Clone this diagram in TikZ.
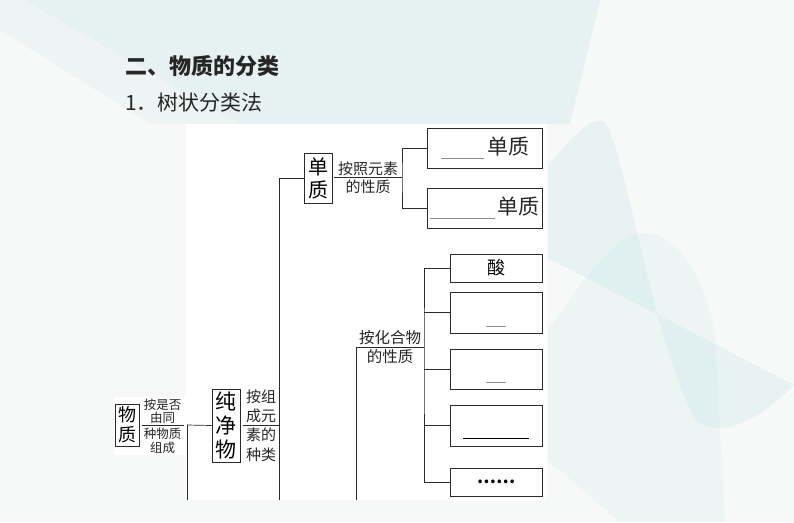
\documentclass[tikz,border=0pt]{standalone}
\usepackage{fontspec}
\setmainfont{Noto Sans CJK SC}
\definecolor{bgc}{HTML}{F7F8F8}
\definecolor{tealc}{HTML}{BFE2E2}
\definecolor{linec}{HTML}{2A2A2A}
\begin{document}
\begin{tikzpicture}[x=1pt,y=-1pt,
  box/.style={draw=linec, line width=0.9pt, inner sep=0pt, fill=white},
  conn/.style={draw=linec, line width=0.7pt},
  lab/.style={inner sep=0pt, anchor=center, text=black!85},
  blank/.style={draw=black!45, line width=0.8pt}]
\useasboundingbox (0,0) rectangle (794,522);
% background
\fill[bgc] (0,0) rectangle (794,522);
\fill[tealc, opacity=0.3] (25,0) -- (600,0) -- (570,124) -- (240,124) -- cycle;
\fill[tealc, opacity=0.15] (0,0) -- (25,0) -- (240,124) -- (150,124) -- (0,30) -- cycle;
\fill[tealc, opacity=0.25] (548,165) .. controls (570,140) and (590,115) .. (605,122)
  .. controls (625,150) and (650,330) .. (695,420) .. controls (720,440) and (760,420) .. (794,385)
  -- (548,258) -- cycle;
\fill[tealc, opacity=0.18] (548,330) .. controls (590,270) and (620,230) .. (648,233)
  .. controls (690,240) and (710,300) .. (715,340) -- (725,522) -- (620,522) -- (548,460) -- cycle;
% titles
\node[lab, anchor=west, font=\fontsize{22}{22}\selectfont\bfseries] (t1) at (125,66) {二、物质的分类};
\node[lab, anchor=west, font=\fontsize{21}{21}\selectfont] (t2) at (125,103) {1．树状分类法};
% white panels
\fill[white] (186,124) rectangle (547,500);
\fill[white] (114,397) rectangle (186,455);
% main boxes
\node[box, minimum width=24pt, minimum height=42pt, align=center, font=\fontsize{18}{20}\selectfont] (wz) at (127,425) {物\\质};
\node[box, minimum width=28pt, minimum height=73pt, align=center, font=\fontsize{21}{24}\selectfont] (cjw) at (226,425.5) {纯\\净\\物};
\node[box, minimum width=28pt, minimum height=50pt, align=center, font=\fontsize{20}{23}\selectfont] (dz) at (318,178) {单\\质};
\node[box, minimum width=115pt, minimum height=40pt] (b1) at (484.5,148) {};
\node[box, minimum width=115pt, minimum height=40pt] (b2) at (484.5,208) {};
\node[box, minimum width=92pt, minimum height=28pt, font=\fontsize{18}{18}\selectfont] (c1) at (496,268) {酸};
\node[box, minimum width=92pt, minimum height=41pt] (c2) at (496,312.5) {};
\node[box, minimum width=92pt, minimum height=40pt] (c3) at (496,369) {};
\node[box, minimum width=92pt, minimum height=41pt] (c4) at (496,425.5) {};
\node[box, minimum width=92pt, minimum height=28pt, font=\fontsize{17}{17}\selectfont\bfseries] (c5) at (496,482) {……};
% box contents
\node[lab, font=\fontsize{21}{21}\selectfont] (b1t) at (508,147) {单质};
\node[lab, font=\fontsize{21}{21}\selectfont] (b2t) at (518,207) {单质};
\coordinate (u1a) at (441,158); \coordinate (u1b) at (484,158);
\coordinate (u2a) at (430,218); \coordinate (u2b) at (495,218);
\coordinate (u3a) at (486,326); \coordinate (u3b) at (506,326);
\coordinate (u4a) at (486,382); \coordinate (u4b) at (506,382);
\coordinate (u5a) at (463,438); \coordinate (u5b) at (529,438);
\draw[blank] (u1a) -- (u1b);
\draw[blank] (u2a) -- (u2b);
\draw[blank] (u3a) -- (u3b);
\draw[blank] (u4a) -- (u4b);
\draw[draw=black, line width=1pt] (u5a) -- (u5b);
% labels
\node[lab, font=\fontsize{12.5}{13}\selectfont] (la1) at (162.5,405) {按是否};
\node[lab, font=\fontsize{12.5}{13}\selectfont] (la2) at (162.5,418) {由同};
\node[lab, font=\fontsize{12.5}{13}\selectfont] (la3) at (162.5,434) {种物质};
\node[lab, font=\fontsize{12.5}{13}\selectfont] (la4) at (162.5,448) {组成};
\node[lab, font=\fontsize{15}{15}\selectfont] (lb1) at (261,397) {按组};
\node[lab, font=\fontsize{15}{15}\selectfont] (lb2) at (261,416) {成元};
\node[lab, font=\fontsize{15}{15}\selectfont] (lb3) at (261,435) {素的};
\node[lab, font=\fontsize{15}{15}\selectfont] (lb4) at (261,455) {种类};
\node[lab, font=\fontsize{15}{15}\selectfont] (lc1) at (368,169) {按照元素};
\node[lab, font=\fontsize{15}{15}\selectfont] (lc2) at (368,187) {的性质};
\node[lab, font=\fontsize{15.5}{15}\selectfont] (ld1) at (390,338) {按化合物};
\node[lab, font=\fontsize{15.5}{15}\selectfont] (ld2) at (390,357) {的性质};
% connectors
\coordinate (l1a) at (142,425); \coordinate (l1b) at (184,425);
\coordinate (m1) at (187,425); \coordinate (m1b) at (187,500);
\draw[conn] (l1a) -- (l1b);
\draw[conn] (m1) -- (cjw.west);
\draw[conn] (m1) -- (m1b);
\coordinate (l2a) at (243,425); \coordinate (l2b) at (279,425);
\coordinate (tr1) at (279,178); \coordinate (tr2) at (279,500);
\draw[conn] (l2a) -- (l2b);
\draw[conn] (tr1) -- (tr2);
\draw[conn] (tr1) -- (dz.west);
\coordinate (l3a) at (334,177); \coordinate (l3b) at (402,177);
\draw[conn] (l3a) -- (l3b);
\draw[conn] (b1.west) -| (l3b) |- (b2.west);
\coordinate (l4a) at (356,347); \coordinate (l4b) at (424,347);
\coordinate (v4b) at (356,500);
\draw[conn] (l4a) -- (l4b);
\draw[conn] (l4a) -- (v4b);
\draw[conn] (c1.west) -| (l4b) |- (c5.west);
\draw[conn] (c2.west) -- (c2.west -| l4b);
\draw[conn] (c3.west) -- (c3.west -| l4b);
\draw[conn] (c4.west) -- (c4.west -| l4b);
\end{tikzpicture}
\end{document}
